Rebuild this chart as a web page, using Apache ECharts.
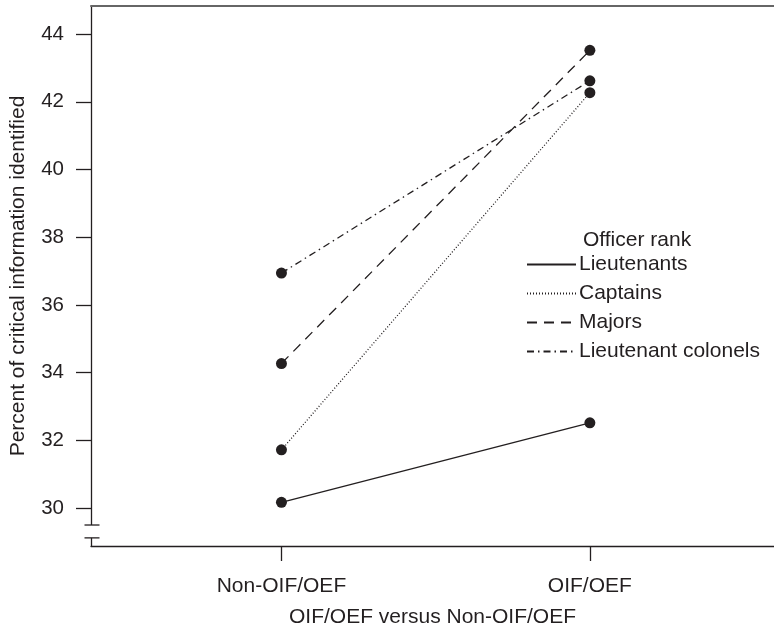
<!DOCTYPE html>
<html>
<head>
<meta charset="utf-8">
<script src="https://cdn.jsdelivr.net/npm/echarts@6/dist/echarts.min.js"></script>
<style>
  html, body { margin: 0; padding: 0; background: #fff; }
  #chart { width: 774px; height: 633px; }
</style>
</head>
<body>
<div id="chart"></div>
<script>
// data
const groups = ["Non-OIF/OEF", "OIF/OEF"];
const ranks = ["Lieutenants", "Captains", "Majors", "Lieutenant colonels"];
const lieutenants = [30.17, 32.52];
const captains = [31.72, 42.27];
const majors = [34.27, 43.52];
const ltColonels = [36.94, 42.62];
const yTicks = [30, 32, 34, 36, 38, 40, 42, 44];

const ink = "#231f20";
const font = "Liberation Sans, Arial, sans-serif";

const xMin = -0.6175, xMax = 1.597;
const yMin = 28.88, yMax = 44.83;
// axis break marks on the left axis (value units)
const breakHi = 29.5, breakLo = 29.12;

const lineTypes = ["solid", [1, 2], [10, 7], [7, 4, 1.5, 4]];
const seriesValues = [lieutenants, captains, majors, ltColonels];

const chart = echarts.init(document.getElementById("chart"));

const option = {
  backgroundColor: "#fff",
  animation: false,
  textStyle: { fontFamily: font, color: ink },
  grid: { left: 89, right: 0, top: 6, bottom: 80 },
  title: {
    text: "Officer rank",
    left: 578,
    top: 225,
    textStyle: { fontFamily: font, fontSize: 21, fontWeight: "normal", color: ink }
  },
  legend: {
    orient: "vertical",
    left: 521,
    top: 249,
    itemGap: 8,
    itemWidth: 49,
    itemHeight: 14,
    itemStyle: { opacity: 0 },
    textStyle: { fontFamily: font, fontSize: 21, color: ink, padding: [0, 0, 0, -2] },
    data: ranks
  },
  xAxis: [
    {
      type: "value",
      min: xMin,
      max: xMax,
      splitLine: { show: false },
      axisLine: { onZero: false, lineStyle: { color: ink, width: 1.3 } },
      axisTick: { customValues: [0, 1], length: 15, lineStyle: { color: ink, width: 1.3 } },
      axisLabel: {
        customValues: [0, 1],
        margin: 30,
        fontSize: 21,
        color: ink,
        fontFamily: font,
        formatter: v => groups[Math.round(v)]
      },
      name: "OIF/OEF versus Non-OIF/OEF",
      nameLocation: "middle",
      nameGap: 61,
      nameTextStyle: { fontSize: 21, color: ink, fontFamily: font }
    },
    {
      type: "value",
      position: "top",
      min: xMin,
      max: xMax,
      splitLine: { show: false },
      axisLine: { show: true, onZero: false, lineStyle: { color: "#666", width: 2 } },
      axisTick: { show: false },
      axisLabel: { show: false }
    }
  ],
  yAxis: {
    type: "value",
    min: yMin,
    max: yMax,
    splitLine: { show: false },
    axisLine: { show: false, onZero: false },
    axisTick: { show: true, customValues: yTicks, length: 15, lineStyle: { color: ink, width: 1.3 } },
    axisLabel: { customValues: yTicks, margin: 27, fontSize: 20.5, color: ink, fontFamily: font },
    name: "Percent of critical information identified",
    nameLocation: "middle",
    nameGap: 62,
    nameTextStyle: { fontSize: 21, color: ink, fontFamily: font }
  },
  series: ranks.map((name, i) => ({
    name: name,
    type: "line",
    data: seriesValues[i].map((v, j) => [j, v]),
    symbol: "circle",
    symbolSize: 11,
    itemStyle: { color: ink },
    lineStyle: { color: ink, width: 1.3, type: lineTypes[i] }
  }))
};

chart.setOption(option);

// left axis with break marks
const toPx = v => chart.convertToPixel({ gridIndex: 0 }, [xMin, v]);
const pTop = toPx(yMax), pHi = toPx(breakHi), pLo = toPx(breakLo), pBot = toPx(yMin);
const x0 = Math.round(pTop[0]) + 0.5;
const seg = (x1, y1, x2, y2) => ({
  type: "line",
  shape: { x1: x1, y1: y1, x2: x2, y2: y2 },
  style: { stroke: ink, lineWidth: 1.3 }
});
chart.setOption({
  graphic: [
    seg(x0, pTop[1], x0, pHi[1]),
    seg(x0 - 7, pHi[1], x0 + 8, pHi[1]),
    seg(x0 - 7, pLo[1], x0 + 8, pLo[1]),
    seg(x0, pLo[1], x0, pBot[1])
  ]
});
</script>
</body>
</html>
